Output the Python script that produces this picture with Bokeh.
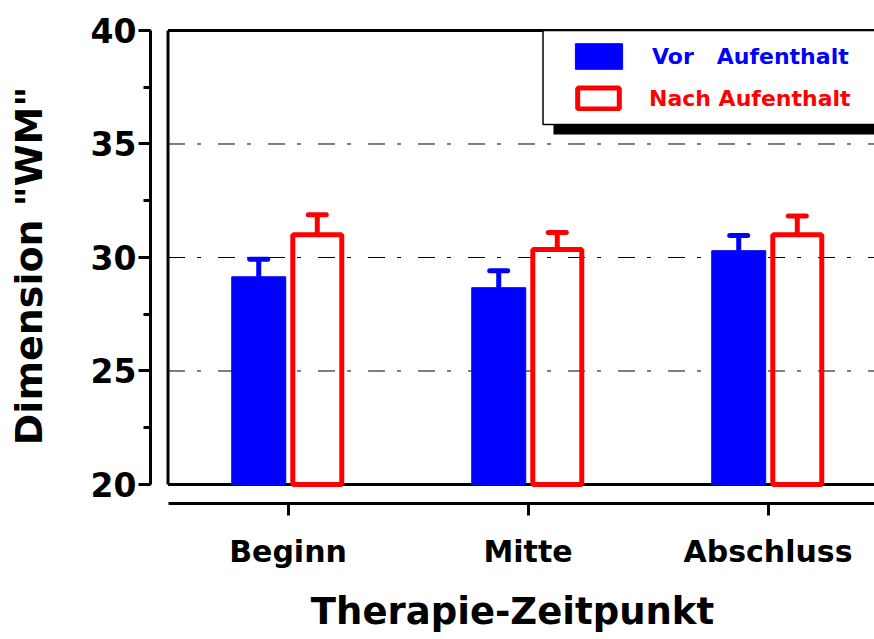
import numpy as np
from bokeh.plotting import figure
from bokeh.models import (Range1d, LinearAxis, SingleIntervalTicker, FixedTicker,
                          BoxAnnotation, Legend, LegendItem, ColumnDataSource)
from bokeh.embed import file_html
from bokeh.resources import INLINE

# ---- data ----
categories = ["Beginn", "Mitte", "Abschluss"]
vor_values = [29.15, 28.67, 30.30]
vor_errors = [0.77, 0.75, 0.67]
nach_values = [31.00, 30.35, 31.00]
nach_errors = [0.88, 0.75, 0.83]
grid_levels = [25, 30, 35]

FONT = "DejaVu Sans"
BLUE = "#0000FF"
RED = "#FF0000"

x_start, x_end = -0.573, 2.4437
y_start, y_end = 19.163, 40.088

p = figure(width=874, height=639, output_backend="svg", toolbar_location=None,
           x_range=Range1d(x_start, x_end), y_range=Range1d(y_start, y_end),
           x_axis_location=None, y_axis_location=None,
           min_border_left=150, min_border_right=0, min_border_top=28, min_border_bottom=136)
p.outline_line_color = None
p.xgrid.visible = False
p.ygrid.visible = False
p.background_fill_color = "white"
p.border_fill_color = "white"

# axes
yaxis = LinearAxis(ticker=SingleIntervalTicker(interval=5, num_minor_ticks=2),
                   bounds=(20, 40), axis_label='Dimension "WM"')
yaxis.axis_line_width = 3
yaxis.major_tick_line_width = 3
yaxis.minor_tick_line_width = 3
yaxis.major_tick_out = 12
yaxis.major_tick_in = 0
yaxis.minor_tick_out = 7
yaxis.minor_tick_in = 0
yaxis.major_label_text_font = FONT
yaxis.major_label_text_font_style = "bold"
yaxis.major_label_text_font_size = "33px"
yaxis.major_label_text_color = "black"
yaxis.major_label_standoff = 2
yaxis.axis_label_text_font = FONT
yaxis.axis_label_text_font_style = "bold"
yaxis.axis_label_text_font_size = "38px"
yaxis.axis_label_text_color = "black"
yaxis.axis_label_standoff = 37
p.add_layout(yaxis, "left")

xidx = np.arange(len(categories))
xaxis = LinearAxis(ticker=FixedTicker(ticks=list(xidx), minor_ticks=[]),
                   bounds=(-0.5, x_end), axis_label="Therapie-Zeitpunkt")
xaxis.major_label_overrides = {int(i): c for i, c in zip(xidx, categories)}
xaxis.axis_line_width = 3
xaxis.major_tick_line_width = 3
xaxis.major_tick_out = 12
xaxis.major_tick_in = 0
xaxis.major_label_text_font = FONT
xaxis.major_label_text_font_style = "bold"
xaxis.major_label_text_font_size = "30px"
xaxis.major_label_text_color = "black"
xaxis.major_label_standoff = 18
xaxis.axis_label_text_font = FONT
xaxis.axis_label_text_font_style = "bold"
xaxis.axis_label_text_font_size = "37px"
xaxis.axis_label_text_color = "black"
xaxis.axis_label_standoff = 18
p.add_layout(xaxis, "below")

# dashed reference lines
p.segment(x0=[-0.5] * len(grid_levels), x1=[x_end] * len(grid_levels),
          y0=grid_levels, y1=grid_levels, line_color="black", line_width=1,
          line_dash="17 12 4 17")

# inner frame box
box_x0 = [-0.5, -0.5, -0.5]
box_x1 = [-0.5, x_end + 0.1, x_end + 0.1]
box_y0 = [20, 40, 20]
box_y1 = [40, 40, 20]
p.segment(x0=box_x0, x1=box_x1, y0=box_y0, y1=box_y1, line_color="black", line_width=3)

# bars
off = 0.122
src_vor = ColumnDataSource(dict(x=xidx - off, top=vor_values,
                                etop=np.array(vor_values) + np.array(vor_errors)))
src_nach = ColumnDataSource(dict(x=xidx + off, top=nach_values,
                                 etop=np.array(nach_values) + np.array(nach_errors)))

cap = 0.0375
for src, color in ((src_vor, BLUE), (src_nach, RED)):
    d = src.data
    p.segment(x0=d["x"], x1=d["x"], y0=d["top"], y1=d["etop"],
              line_color=color, line_width=5)
    p.segment(x0=d["x"] - cap, x1=d["x"] + cap, y0=d["etop"], y1=d["etop"],
              line_color=color, line_width=5, line_cap="round")

vor_r = p.vbar(x="x", top="top", bottom=20, width=0.225, source=src_vor,
               fill_color=BLUE, line_color=BLUE, line_width=1)
nach_r = p.vbar(x="x", top="top", bottom=20, width=0.204, source=src_nach,
                fill_alpha=0, line_color=RED, line_width=5)

# legend box with shadow
shadow = BoxAnnotation(left=1.106, right=x_end + 0.2, top=39.56, bottom=35.42,
                       fill_color="black", fill_alpha=1, line_alpha=0)
frame_box = BoxAnnotation(left=1.0625, right=x_end + 0.2, top=40.0, bottom=35.86,
                          fill_color="white", fill_alpha=1, line_color="black",
                          line_width=1.5, line_alpha=1)
p.add_layout(shadow)
p.add_layout(frame_box)

def make_legend(label, renderer, color, loc, gw, gh, standoff):
    lg = Legend(items=[LegendItem(label=label, renderers=[renderer])], location=loc,
                padding=0, margin=0, spacing=0, border_line_alpha=0,
                background_fill_alpha=0, glyph_width=gw, glyph_height=gh,
                label_standoff=standoff, label_text_font=FONT,
                label_text_font_style="bold", label_text_font_size="22px",
                label_text_color=color)
    return lg

p.add_layout(make_legend("Vor   Aufenthalt", vor_r, BLUE, (419, 431), 59, 32, 24), "center")
p.add_layout(make_legend("Nach Aufenthalt", nach_r, RED, (422, 392), 52, 26, 25), "center")

open("out.html", "w").write(file_html(p, INLINE))
